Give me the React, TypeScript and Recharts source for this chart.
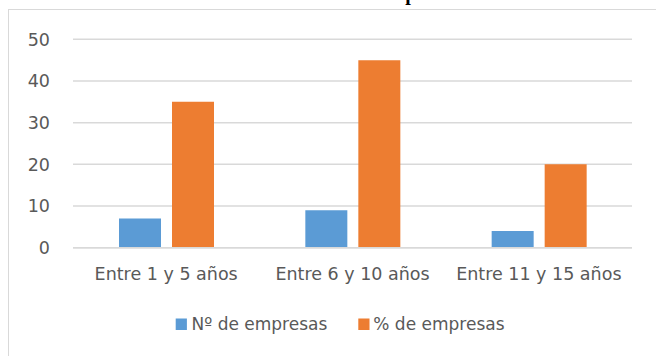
import React from 'react';
import { BarChart, Bar, XAxis, YAxis, CartesianGrid } from 'recharts';

// Company age ranges and their counts / shares
const categories = ['Entre 1 y 5 años', 'Entre 6 y 10 años', 'Entre 11 y 15 años'];
const numEmpresas = [7, 9, 4];
const pctEmpresas = [35, 45, 20];
const yTicks = [0, 10, 20, 30, 40, 50];

const seriesNames = ['Nº de empresas', '% de empresas'];
const seriesColors = ['#5B9BD5', '#ED7D31'];
const title = 'Edad de las empresas';

const data = categories.map((name, i) => ({
  name,
  num: numEmpresas[i],
  pct: pctEmpresas[i],
}));

const FONT = '"DejaVu Sans", sans-serif';
const TEXT = '#595959';
const GRID = '#d9d9d9';

export default function App() {
  return (
    <div
      style={{
        position: 'absolute',
        left: 0,
        top: 0,
        width: 656,
        height: 356,
        overflow: 'hidden',
        background: '#fff',
      }}
    >
      {/* chart area frame */}
      <div
        style={{
          position: 'absolute',
          left: 7.5,
          top: 8.5,
          width: 720,
          height: 420,
          border: `1.5px solid ${GRID}`,
          boxSizing: 'border-box',
        }}
      />
      <div style={{ position: 'absolute', left: 0, top: 0 }}>
        <BarChart
          width={656}
          height={356}
          data={data}
          margin={{ top: 39.3, right: 24, left: 0, bottom: 78.3 }}
          barSize={42}
          barGap={11}
        >
          <CartesianGrid vertical={false} stroke={GRID} strokeWidth={1.5} />
          <XAxis
            dataKey="name"
            height={30}
            tickLine={false}
            tickSize={0}
            tickMargin={20}
            axisLine={{ stroke: GRID, strokeWidth: 1.5 }}
            tick={{ fill: TEXT, fontSize: 17.5, fontFamily: FONT }}
            interval={0}
          />
          <YAxis
            width={73}
            domain={[0, 50]}
            ticks={yTicks}
            tickLine={false}
            axisLine={false}
            tickSize={0}
            tickMargin={23}
            tick={{ fill: TEXT, fontSize: 17.5, fontFamily: FONT }}
          />
          <Bar dataKey="num" name={seriesNames[0]} fill={seriesColors[0]} isAnimationActive={false} />
          <Bar dataKey="pct" name={seriesNames[1]} fill={seriesColors[1]} isAnimationActive={false} />
        </BarChart>
      </div>
      <svg
        width={656}
        height={356}
        style={{ position: 'absolute', left: 0, top: 0, pointerEvents: 'none' }}
      >
        {/* title sits above the frame */}
        <text
          x={367.5}
          y={0}
          textAnchor="middle"
          fontFamily='"Liberation Serif", "Times New Roman", serif'
          fontWeight="bold"
          fontSize={20}
          fill="#000"
        >
          {title}
        </text>
        {/* legend */}
        <rect x={175.7} y={318.5} width={11.2} height={11.5} fill={seriesColors[0]} />
        <text x={191.5} y={330} fontFamily={FONT} fontSize={17} fill={TEXT}>
          {seriesNames[0]}
        </text>
        <rect x={358.3} y={318.5} width={11.2} height={11.5} fill={seriesColors[1]} />
        <text x={373.3} y={330} fontFamily={FONT} fontSize={17} fill={TEXT}>
          {seriesNames[1]}
        </text>
      </svg>
    </div>
  );
}
